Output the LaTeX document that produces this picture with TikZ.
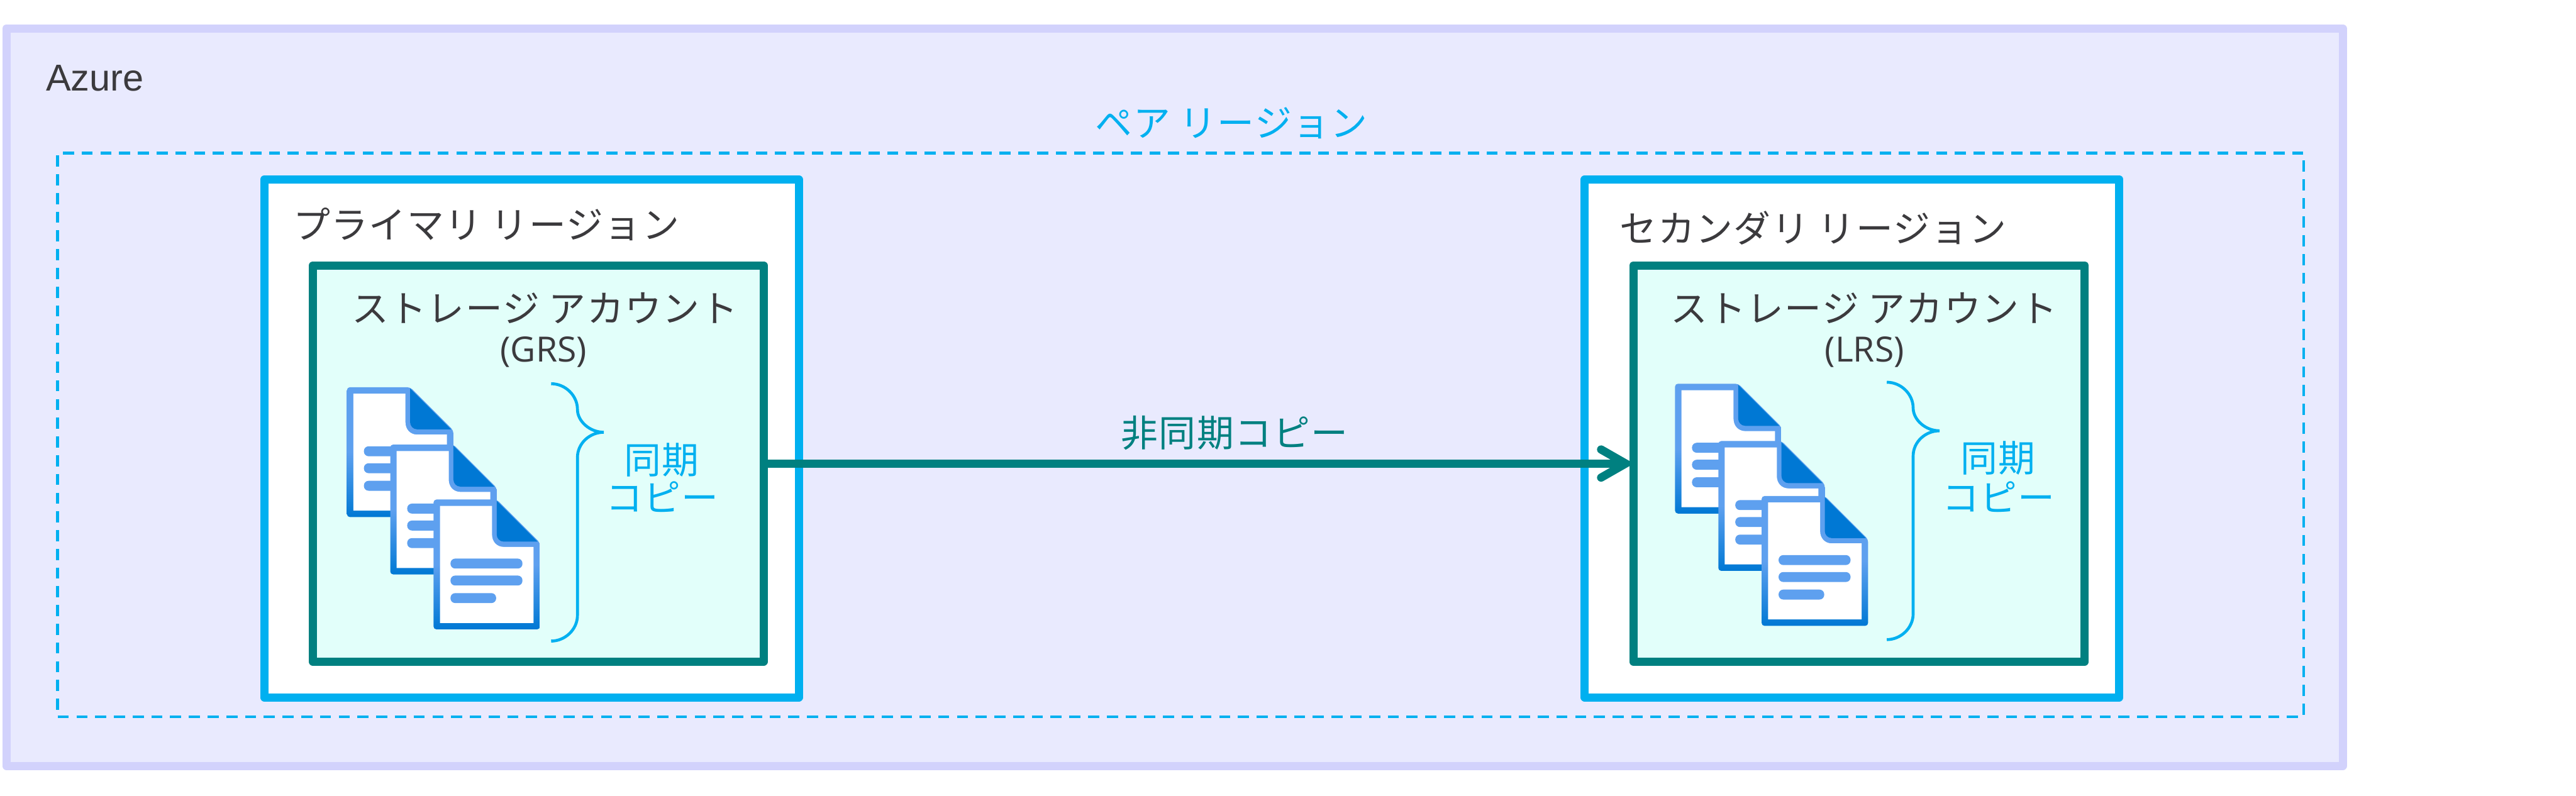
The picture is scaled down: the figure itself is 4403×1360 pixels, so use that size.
\documentclass[tikz,border=0pt]{standalone}
\usepackage{fontspec}
\usetikzlibrary{arrows.meta}
\setmainfont{Liberation Sans}
\newfontfamily\jpfont[LetterSpace=2.5]{Noto Sans CJK JP}
\newfontfamily\opfont{Open Sans}
\definecolor{azurefill}{HTML}{E9EAFE}
\definecolor{azureline}{HTML}{D2D2FC}
\definecolor{regionline}{HTML}{00B0F0}
\definecolor{accountline}{HTML}{008080}
\definecolor{accountfill}{HTML}{E2FFFA}
\definecolor{labelgray}{HTML}{3B3A3D}
\definecolor{doclight}{HTML}{5EA0EF}
\definecolor{docdark}{HTML}{0078D4}
\pgfdeclareverticalshading{docshade}{100bp}{color(0bp)=(docdark); color(25bp)=(docdark); color(50bp)=(doclight); color(100bp)=(doclight)}
\tikzset{
    azurebox/.style={draw=azureline, fill=azurefill, line width=.14cm, line join=round, minimum width=39.91cm, minimum height=12.6cm},
    pairbox/.style={draw=regionline, line width=.05cm, dash pattern=on .19cm off .13cm, minimum width=38.365cm, minimum height=9.63cm},
    regionbox/.style={draw=regionline, fill=white, line width=.14cm, line join=round, minimum width=9.13cm, minimum height=8.85cm},
    accountbox/.style={draw=accountline, fill=accountfill, line width=.14cm, line join=round, minimum width=7.7cm, minimum height=6.77cm},
    darktext/.style={text=labelgray, inner sep=0pt, font=\jpfont\fontsize{18}{20}\selectfont},
    synctext/.style={text=regionline, inner sep=0pt, font=\jpfont\fontsize{18}{20}\selectfont},
    codetext/.style={text=labelgray, inner sep=0pt, font=\opfont\fontsize{16.9}{20}\selectfont}
}
\begin{document}
\begin{tikzpicture}[x=.01cm, y=-.01cm]
    \useasboundingbox (0,0) rectangle (4403,1360);
    \node[azurebox] (azure) at (2007.5,679) {};
    \node[pairbox] (pair) at (2018,743.5) {};
    \node[regionbox] (primary) at (908.5,749.5) {};
    \node[regionbox] (secondary) at (3165.5,749.5) {};
    \node[accountbox] (grsaccount) at (920,792.5) {};
    \node[accountbox, minimum width=7.71cm] (lrsaccount) at (3177.5,792.5) {};
    \node[text=labelgray, inner sep=0pt, anchor=base west, font=\fontsize{18.2}{20}\selectfont] (azurelabel) at (78,155) {Azure};
    \node[synctext] (pairlabel) at (2105,210) {ペア リージョン};
    \node[darktext] (primarylabel) at (831,383) {プライマリ リージョン};
    \node[darktext] (secondarylabel) at (3099,390) {セカンダリ リージョン};
    \node[darktext] (grslabel) at (931,527) {ストレージ アカウント};
    \node[darktext] (lrslabel) at (3186,527) {ストレージ アカウント};
    \node[codetext] (grscode) at (929,602) {(GRS)};
    \node[codetext] (lrscode) at (3187,602) {(LRS)};
    \node[synctext] (grssync) at (1131,786) {同期};
    \node[synctext] (grscopy) at (1132,850) {コピー};
    \node[synctext] (lrssync) at (3415,783) {同期};
    \node[synctext] (lrscopy) at (3416,849) {コピー};
    \node[darktext, text=accountline] (asynclabel) at (2110,740) {非同期コピー};
    \draw[accountline, line width=.14cm, shorten >=-.08cm, -{Straight Barb[length=.42cm, width=.48cm, line width=.14cm, line cap=round, line join=miter]}] (grsaccount.east) -- (lrsaccount.west);
    \foreach \u/\v in {0/0, 2270/-6}
    \foreach \x/\y in {593/662, 667/760, 741/854}
    {
        \begin{scope}[shift={(\u+\x,\v+\y)}]
            \shade[shading=docshade, rounded corners=.05cm] (0,0) -- (108,0) -- (182,74) -- (182,222) -- (0,222) -- cycle;
            \fill[white] (11,11) -- (100,11) -- (100,60) .. controls (100,72) and (108,81) .. (120,81) -- (171,81) -- (171,211) -- (11,211) -- cycle;
            \fill[docdark] (108,2) -- (178,72) -- (120,72) .. controls (113,72) and (108,66) .. (108,60) -- cycle;
            \fill[doclight, rounded corners=.08cm] (29,101) rectangle (152,118);
            \fill[doclight, rounded corners=.08cm] (29,130) rectangle (152,147);
            \fill[doclight, rounded corners=.08cm] (29,160) rectangle (107,177);
        \end{scope}
    }
    \foreach \u/\v in {0/0, 2283/-2.5}
    \draw[regionline, line width=.05cm, shift={(\u,\v)}] (942,656) .. controls (966,656) and (987,676) .. (987,700) .. controls (987,720) and (1008,739) .. (1032,739) .. controls (1008,739) and (987,758) .. (987,782) -- (987,1052) .. controls (987,1076) and (966,1096) .. (942,1096);
\end{tikzpicture}
\end{document}
